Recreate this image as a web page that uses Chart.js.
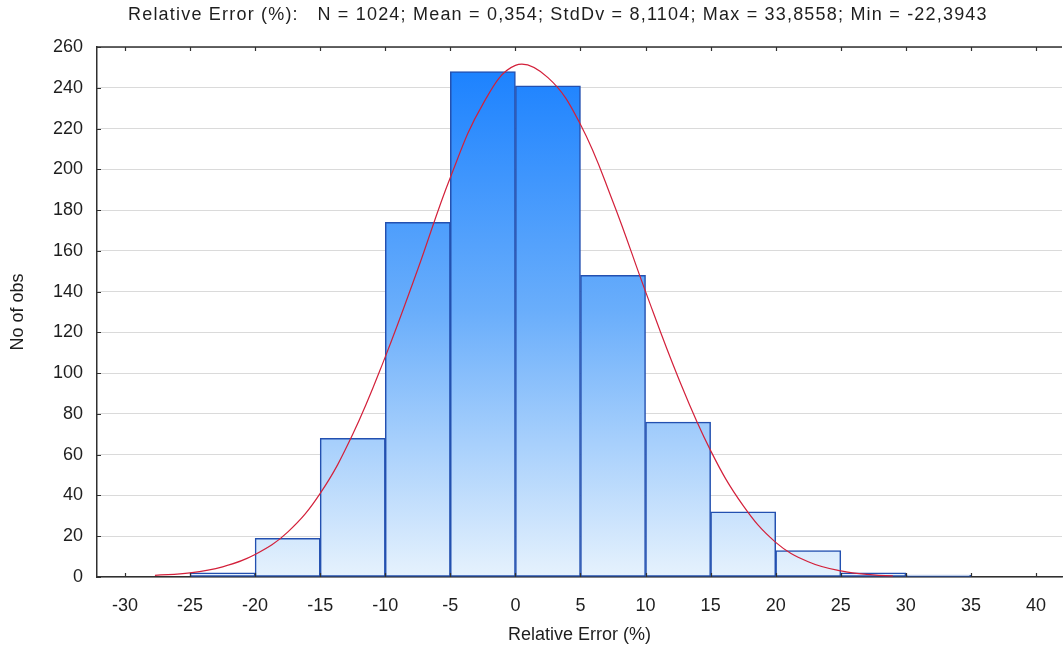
<!DOCTYPE html>
<html>
<head>
<meta charset="utf-8">
<script src="https://cdn.jsdelivr.net/npm/chart.js@4.4.1/dist/chart.umd.min.js"></script>
<style>
  html, body { margin: 0; padding: 0; background: #fff; }
  #wrap { width: 1064px; height: 656px; position: relative; }
</style>
</head>
<body>
<div id="wrap"><canvas id="histChart"></canvas></div>
<script>
// histogram bins (centre of each 5-unit bin) and counts
const binCenters = [-22.5, -17.5, -12.5, -7.5, -2.5, 2.5, 7.5, 12.5, 17.5, 22.5, 27.5, 32.5]
const binCounts = [2, 19, 68, 174, 248, 241, 148, 76, 32, 13, 2, 1]

// fitted normal curve
const curveX = [-27.7, -25, -22.5, -20, -17.5, -15, -12.5, -10, -7.5, -5, -2.5, 0, 2.5, 5, 7.5, 10, 12.5, 15, 17.5, 20, 22.5, 25, 27.5, 29]
const curveY = [0.8, 2, 5, 11, 22, 41, 70, 108, 151, 196, 232, 251, 245, 222, 184, 140, 98, 62, 35, 17, 7.5, 3, 1, 0.6]

const xTicks = [-30, -25, -20, -15, -10, -5, 0, 5, 10, 15, 20, 25, 30, 35, 40]
const yTicks = [0, 20, 40, 60, 80, 100, 120, 140, 160, 180, 200, 220, 240, 260]

const titleText = 'Relative Error (%):   N = 1024; Mean = 0,354; StdDv = 8,1104; Max = 33,8558; Min = -22,3943'

const fontFamily = 'Arial, "Liberation Sans", sans-serif'
const textColor = '#1e1e1e'

// bars get a vertical gradient over the whole plot area
function barGradient(context) {
  const chart = context.chart
  const area = chart.chartArea
  if (!area) return '#6aaefb'
  const g = chart.ctx.createLinearGradient(0, area.top, 0, area.bottom)
  g.addColorStop(0, '#157eff')
  g.addColorStop(0.5, '#6aaefb')
  g.addColorStop(1, '#e6f2fd')
  return g
}

// title text, top frame line, and the little inward tick marks
const framePlugin = {
  id: 'frame',
  afterDraw(chart) {
    const ctx = chart.ctx
    const area = chart.chartArea
    const xs = chart.scales.x
    const ys = chart.scales.y
    ctx.save()
    ctx.strokeStyle = '#303030'
    ctx.lineWidth = 1.5
    ctx.beginPath()
    ctx.moveTo(area.left, area.top)
    ctx.lineTo(area.right, area.top)
    ctx.stroke()
    ctx.lineWidth = 1.2
    ctx.beginPath()
    xTicks.forEach(v => {
      const px = Math.round(xs.getPixelForValue(v)) + 0.5
      ctx.moveTo(px, area.top)
      ctx.lineTo(px, area.top + 4)
      ctx.moveTo(px, area.bottom)
      ctx.lineTo(px, area.bottom - 4)
    })
    yTicks.forEach(v => {
      const py = Math.round(ys.getPixelForValue(v)) + 0.5
      ctx.moveTo(area.left, py)
      ctx.lineTo(area.left + 4, py)
    })
    ctx.stroke()

    ctx.fillStyle = textColor
    ctx.font = '18px ' + fontFamily
    ctx.letterSpacing = '1.2px'
    ctx.textBaseline = 'middle'
    ctx.textAlign = 'left'
    ctx.fillText(titleText, 128, 15)
    ctx.restore()
  }
}

const ctx = document.getElementById('histChart').getContext('2d')
const histChart = new Chart(ctx, {
  data: {
    datasets: [
      {
        type: 'line',
        label: 'Normal fit',
        data: curveX.map((x, i) => ({ x: x, y: curveY[i] })),
        borderColor: '#d3203a',
        borderWidth: 1.2,
        pointRadius: 0,
        tension: 0.4,
        fill: false,
        order: 0
      },
      {
        type: 'bar',
        label: 'No of obs',
        data: binCenters.map((x, i) => ({ x: x, y: binCounts[i] })),
        backgroundColor: barGradient,
        borderColor: '#2350b0',
        borderWidth: 1.5,
        borderSkipped: false,
        barPercentage: 1,
        categoryPercentage: 1,
        order: 1
      }
    ]
  },
  options: {
    responsive: true,
    maintainAspectRatio: false,
    animation: false,
    layout: { padding: { top: 47, right: 0, bottom: 0, left: 0 } },
    plugins: {
      legend: { display: false },
      tooltip: { enabled: false },
      title: { display: false }
    },
    scales: {
      x: {
        type: 'linear',
        offset: false,
        min: -32.15,
        max: 42.0,
        afterBuildTicks(scale) {
          scale.ticks = xTicks.map(v => ({ value: v }))
        },
        afterFit(scale) {
          scale.height = 79
        },
        grid: { display: false, drawTicks: false, offset: false },
        border: { display: true, color: '#303030', width: 1.5 },
        ticks: {
          padding: 18,
          color: textColor,
          font: { family: fontFamily, size: 18 },
          maxRotation: 0,
          autoSkip: false
        },
        title: {
          display: true,
          text: 'Relative Error (%)',
          color: textColor,
          font: { family: fontFamily, size: 18 },
          padding: { top: 10, bottom: 10 }
        }
      },
      y: {
        min: 0,
        max: 260,
        afterBuildTicks(scale) {
          scale.ticks = yTicks.map(v => ({ value: v }))
        },
        afterFit(scale) {
          scale.width = 97
        },
        grid: { color: '#dadada', lineWidth: 1, drawTicks: false },
        border: { display: true, color: '#303030', width: 1.5 },
        ticks: {
          padding: 14,
          color: textColor,
          font: { family: fontFamily, size: 18 }
        },
        title: {
          display: true,
          text: 'No of obs',
          color: textColor,
          font: { family: fontFamily, size: 18 },
          padding: { top: 7, bottom: 0 }
        }
      }
    }
  },
  plugins: [framePlugin]
})
</script>
</body>
</html>
